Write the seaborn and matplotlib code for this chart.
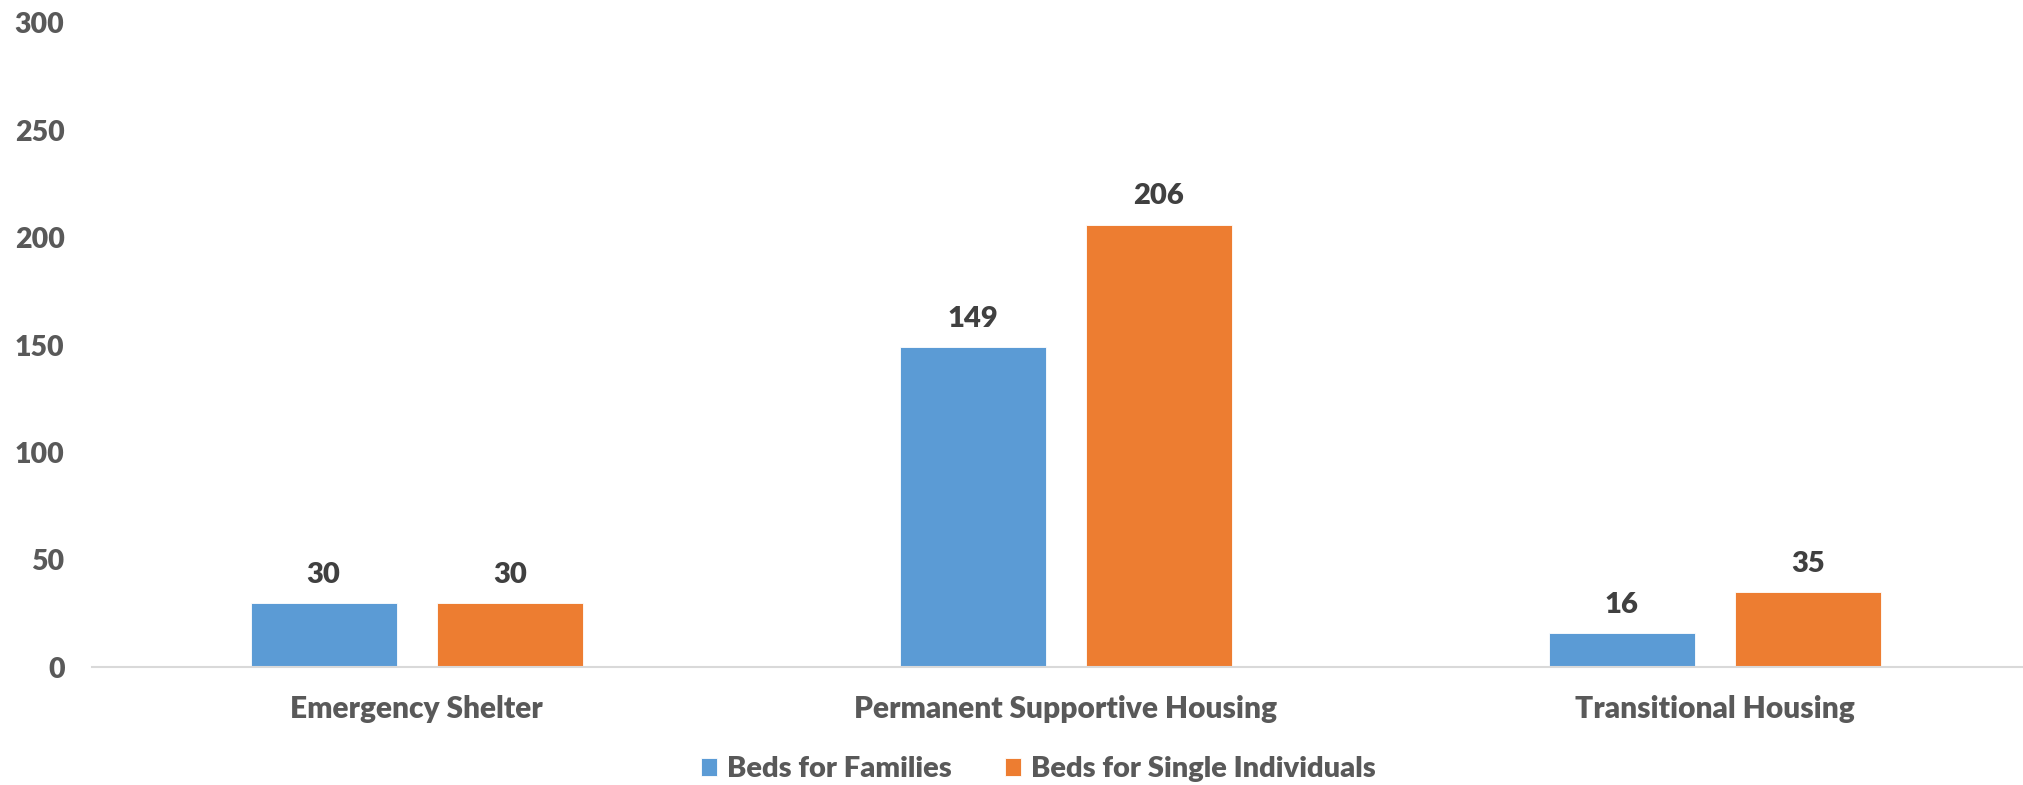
import matplotlib
matplotlib.use("Agg")
import matplotlib.pyplot as plt
import seaborn as sns
import pandas as pd

categories = ["Emergency Shelter", "Permanent Supportive Housing", "Transitional Housing"]
series_names = ["Beds for Families", "Beds for Single Individuals"]
families = [30, 149, 16]
singles = [30, 206, 35]
yticks = [0, 50, 100, 150, 200, 250, 300]

df = pd.DataFrame({
    "Category": categories * 2,
    "Series": [series_names[0]] * 3 + [series_names[1]] * 3,
    "Beds": families + singles,
})

sns.set_theme(style="white")
plt.rcParams['font.family'] = ['Lato', 'DejaVu Sans']
W = 'heavy'

fig = plt.figure(figsize=(20.24, 7.85), dpi=100)
ax = fig.add_axes([0.0456, 0.150, 0.962, 0.821])

palette = {series_names[0]: "#5B9BD5", series_names[1]: "#ED7D31"}
sns.barplot(data=df, x="Category", y="Beds", hue="Series", order=categories,
            hue_order=series_names, palette=palette, width=0.574, gap=0.215,
            edgecolor="#FFFFFF", linewidth=0.6, saturation=1, errorbar=None, ax=ax)

for cont in ax.containers:
    ax.bar_label(cont, padding=11, fontsize=21, fontweight=W, color="#404040")

ax.set_ylim(0, 300)
ax.set_yticks(yticks)
ax.set_xlim(-0.5, 2.5)
ax.tick_params(axis='y', length=0, pad=20, labelsize=20.5, labelcolor="#595959")
ax.tick_params(axis='x', length=0, pad=20, labelsize=21.5, labelcolor="#595959")
for lab in ax.get_yticklabels() + ax.get_xticklabels():
    lab.set_fontweight(W)
ax.set_xlabel("")
ax.set_ylabel("")
for s in ["top", "right", "left"]:
    ax.spines[s].set_visible(False)
ax.spines["bottom"].set_color("#D9D9D9")
ax.spines["bottom"].set_linewidth(1.5)

leg = ax.legend(loc="center", bbox_to_anchor=(0.513, 0.02), bbox_transform=fig.transFigure,
                ncol=2, frameon=False, prop={'size': 21, 'weight': W},
                handlelength=0.55, handleheight=0.55,
                columnspacing=1.8, handletextpad=0.35)
for t in leg.get_texts():
    t.set_color("#595959")

fig.savefig("out.png", dpi=100)
